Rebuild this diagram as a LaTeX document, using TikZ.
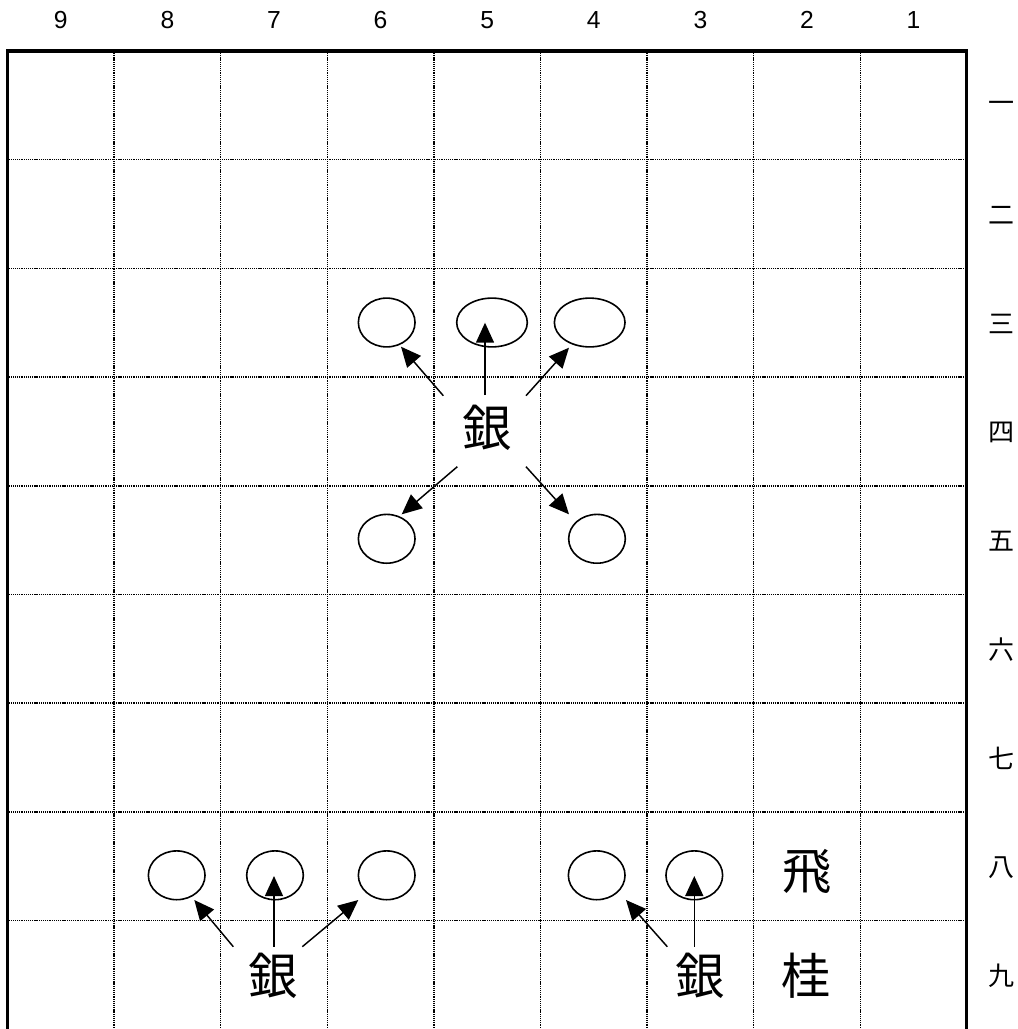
\documentclass[tikz,border=0pt]{standalone}
\usepackage{fontspec}
\setmainfont{Liberation Sans}
\newfontfamily\jp{Noto Sans CJK JP}
\usetikzlibrary{arrows.meta,shapes.geometric}
\begin{document}
\begin{tikzpicture}[x=0.75pt,y=-0.75pt,
  gridline/.style={line width=1.1pt, dash pattern=on 0.8pt off 0.6pt},
  frameline/.style={line width=2.3pt},
  target/.style={ellipse, draw, line width=1.2pt, inner sep=0pt, minimum width=42.5pt, minimum height=36.6pt},
  widetarget/.style={target, minimum width=53pt},
  piece/.style={font=\jp\fontsize{37}{37}\selectfont, inner sep=0pt},
  collabel/.style={font=\fontsize{18.5}{18.5}\selectfont, inner sep=0pt},
  rowlabel/.style={font=\jp\fontsize{19.5}{19.5}\selectfont, inner sep=0pt},
  mv/.style={-{Triangle[length=15pt,width=13.5pt]}, line width=1.1pt}]
\useasboundingbox (0,0) rectangle (1018,1029);
% grid
\foreach \k in {1,...,8} {
  \draw[gridline] ({7.5+106.6*\k},51) -- ({7.5+106.6*\k},1032);
  \draw[gridline] (7.5,{51+108.7*\k}) -- (966.9,{51+108.7*\k});
}
\draw[frameline] (7.5,1035) -- (7.5,51) -- (966.9,51) -- (966.9,1035);
% column labels
\foreach \n [count=\i from 0] in {9,8,7,6,5,4,3,2,1}
  \node[collabel] (c\n) at ({60.8+106.6*\i},20) {\n};
% row labels
\foreach \t [count=\r from 0] in {一,二,三,四,五,六,七,八,九}
  \node[rowlabel] (r\r) at (1001.7,{106.5+108.7*\r}) {\t};
% targets
\node[target] (e63) at (386.7,322.5) {};
\node[widetarget] (e53) at (492,322.5) {};
\node[widetarget] (e43) at (589.7,322.5) {};
\node[target] (e65) at (386.7,538.8) {};
\node[target] (e45) at (597,538.8) {};
\node[target] (e88) at (176.7,875.3) {};
\node[target] (e78) at (275,875.3) {};
\node[target] (e68) at (386.7,875.3) {};
\node[target] (e48) at (596.7,875.3) {};
\node[target] (e38) at (694.3,875.3) {};
% pieces
\node[piece] (g54) at (486.7,428) {銀};
\node[piece] (g79) at (273.3,975.5) {銀};
\node[piece] (g39) at (700,975.5) {銀};
\node[piece] (h28) at (807.5,872) {飛};
\node[piece] (k29) at (806,975.5) {桂};
% arrow ends
\coordinate (a1s) at (485,395);    \coordinate (a1t) at (485,322.7);
\coordinate (a2s) at (443.3,395.7);\coordinate (a2t) at (401,346.7);
\coordinate (a3s) at (526,395.7);  \coordinate (a3t) at (569,347.7);
\coordinate (a4s) at (457.3,466.7);\coordinate (a4t) at (401.7,514.3);
\coordinate (a5s) at (526,466.7);  \coordinate (a5t) at (569,514.3);
\coordinate (b1s) at (274,946.7);  \coordinate (b1t) at (274,876);
\coordinate (b2s) at (233.3,946.7);\coordinate (b2t) at (194.3,900);
\coordinate (b3s) at (302.3,946.7);\coordinate (b3t) at (358.3,900);
\coordinate (d1s) at (694.3,946.7);\coordinate (d1t) at (694.3,876);
\coordinate (d2s) at (667.3,946.7);\coordinate (d2t) at (626,900);
\draw[mv] (a1s) -- (a1t);
\draw[mv] (a2s) -- (a2t);
\draw[mv] (a3s) -- (a3t);
\draw[mv] (a4s) -- (a4t);
\draw[mv] (a5s) -- (a5t);
\draw[mv] (b1s) -- (b1t);
\draw[mv] (b2s) -- (b2t);
\draw[mv] (b3s) -- (b3t);
\draw[mv] (d1s) -- (d1t);
\draw[mv] (d2s) -- (d2t);
\end{tikzpicture}
\end{document}
